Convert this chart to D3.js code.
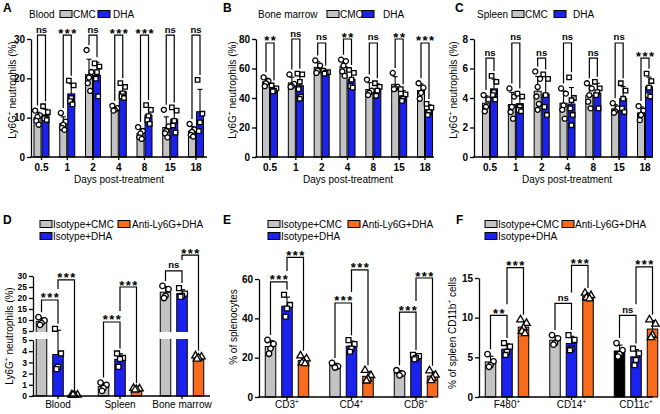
<!DOCTYPE html>
<html><head><meta charset="utf-8">
<script src="https://cdn.jsdelivr.net/npm/d3@7"></script>
<style>body{margin:0;background:#fff} svg{display:block} text{font-family:'Liberation Sans',Arial,sans-serif;fill:#000}</style>
</head><body><script>
// ---------------- DATA ----------------
const days = ["0.5","1","2","4","8","15","18"];
// Panel A: Blood
const bloodCMC = [[11.8,10.6,10.2,9.2,8.2],[11.2,9.0,8.2,7.4,6.9],[27.2,21.6,20.2,18.8,16.8],[13.0,12.4,12.0,11.8],[7.6,6.6,6.0,5.0,4.6],[12.0,7.8,6.6,6.0,5.0],[8.4,7.0,6.4,5.6,5.2]];
const bloodDHA = [[12.9,11.4,10.0,9.8,9.4],[19.4,18.2,15.0,14.2,13.4],[23.8,23.0,21.6,19.9,15.4],[18.8,17.8,16.2,15.4,15.0],[13.2,12.0,10.4,9.4,8.4],[12.6,11.8,9.2,8.0,6.2],[19.6,11.0,8.8,6.6]];
const bloodSig = ["ns","***","ns","***","***","ns","ns"];
// Panel B: Bone marrow
const marrowCMC = [[54,51.5,50,48],[56,49.5,48,47.5],[65.5,62,58.5,57],[66,65,62,58,55],[52.5,45,43.5,42],[57,47.5,46.5,46],[50,47,43.5,39.5]];
const marrowDHA = [[48.5,46.5,45,44.5],[56.5,56,51,46,41,39.5],[58.5,57.5,57,56.5],[59,57,52.5,48,47],[50,47.5,45,41.5],[46,42.5,39.5,38],[36,33.5,30.5,28.5]];
const marrowSig = ["**","ns","ns","**","ns","**","***"];
// Panel C: Spleen
const spleenCMC = [[4.2,3.9,3.4,3.1],[4.65,4.1,3.4,3.05,2.6],[5.8,5.3,4.75,4.1,3.6,3.2],[4.65,4.3,3.5,3.2,2.6],[5.0,4.65,4.2,3.75,3.3],[3.65,3.3,3.1,3.0],[3.45,3.15,2.85,2.5]];
const spleenDHA = [[5.5,5.1,4.4,4.2,3.9],[4.3,4.1,3.4,3.2,3.1],[5.6,5.3,4.2,3.4,2.85],[5.4,4.0,3.85,3.3,2.85,2.15],[5.1,4.65,4.4,4.2,3.3],[5.0,4.5,3.95,3.3,3.05],[5.65,5.15,4.7,4.2,4.1]];
const spleenSig = ["ns","ns","ns","ns","ns","ns","***"];
// Panel D
const tissues = ["Blood","Spleen","Bone marrow"];
const dIsoCMC = [[11.3,9.8,8.6,7.8],[1.2,1.0,0.7,0.45],[25.5,24,21,20]];
const dIsoDHA = [[6.0,3.8,2.6,2.4],[3.8,3.4,3.3,2.6],[24.5,22,21,20.5]];
const dAntiDHA = [[0.1,0.1,0.1,0.1],[0.7,0.65,0.6,0.55],[3.6,3.5,3.4,3.3]];
const dSigCMCvsDHA = ["***","***","ns"];
const dSigDHAvsAnti = ["***","***","***"];
// Panel E
const tcells = ["CD3","CD4","CD8"];
const eIsoCMC = [[29,27,24.6,22],[17.3,15.6,15.0],[13.6,11.9,11.0]];
const eIsoDHA = [[52,46.8,45,40.8],[28.9,26.9,24.6,23],[21.4,20.8,19.8,19.2]];
const eAntiDHA = [[21,19.5,18,17.4,17],[13.6,11,9.2,8.2],[13.4,11.2,9.6,8.4]];
const eSigCMCvsDHA = ["***","***","***"];
const eSigDHAvsAnti = ["***","***","***"];
// Panel F
const myeloid = ["F480","CD14","CD11c"];
const fIsoCMC = [[5.4,4.5,4.0,3.8],[7.8,7.4,6.8,6.6],[6.8,5.9,5.4,5.1]];
const fIsoDHA = [[6.8,6.35,5.7,5.3],[7.8,7.2,6.1,5.9],[6.1,5.5,4.66,4.0]];
const fAntiDHA = [[9.75,9.3,8.7,8.3,8.0],[13.1,12.8,12.6,12.5,12.4],[9.75,9.2,7.8,7.5]];
const fSigCMCvsDHA = ["**","ns","ns"];
const fSigDHAvsAnti = ["***","***","***"];
// tick labels
const yTicksA = [0,10,20,30], yTicksB = [0,20,40,60,80], yTicksC = [0,2,4,6,8];
const yTicksDLow = [0,1,2,3,4,5], yTicksDHigh = [5,10,15,20,25,30];
const yTicksE = [0,20,40,60], yTicksF = [0,5,10,15];

// ---------------- DRAWING ----------------
const GREY = "#c2c3c2", BLUE = "#1b22ee", ORANGE = "#f96b1c";
const svg = d3.select("body").append("svg").attr("width",660).attr("height",414);
const jit = [-3, 3, 0, -1.5, 1.5, 0];

function supText(sel, base, sup, rest) {
  sel.append("tspan").text(base);
  sel.append("tspan").attr("dy",-4).attr("font-size","6.5px").text(sup);
  if (rest) sel.append("tspan").attr("dy",4).text(rest);
}
function sym(shape, size) {
  const t = shape==="circle"?d3.symbolCircle:shape==="square"?d3.symbolSquare:d3.symbolTriangle;
  return d3.symbol().type(t).size(size)();
}

function drawPanel(p) {
  const g = svg.append("g");
  const xc = d3.scalePoint().domain(p.cats).range(p.cRange);
  const n = p.series.length;
  const bx = (ci, si) => xc(p.cats[ci]) + (si - (n-1)/2) * p.step;
  const y = p.y;
  const stats = p.series.map(s => s.pts.map(pts => {
    const m = d3.mean(pts), sd = d3.deviation(pts) || 0;
    return {m, sd, top: Math.max(d3.max(pts), m + sd)};
  }));
  // bars
  p.series.forEach((s, si) => s.pts.forEach((pts, ci) => {
    const st = stats[si][ci];
    const fill = s.fillFor ? s.fillFor(p.cats[ci]) : s.fill;
    g.append("rect").attr("x", bx(ci,si) - p.barW/2).attr("y", y(st.m))
      .attr("width", p.barW).attr("height", Math.max(0, y(0) - y(st.m)))
      .attr("fill", fill).attr("stroke","#000").attr("stroke-width",1);
    if (p.gap && st.m > p.gap.v) {
      g.append("rect").attr("x", bx(ci,si) - p.barW/2 - 1).attr("y", p.gap.y0)
        .attr("width", p.barW + 2).attr("height", p.gap.y1 - p.gap.y0).attr("fill","#fff");
    }
  }));
  // error bars + points
  p.series.forEach((s, si) => s.pts.forEach((pts, ci) => {
    const st = stats[si][ci], x = bx(ci, si);
    if (st.sd > 0) {
      g.append("line").attr("x1",x).attr("x2",x).attr("y1",y(st.m)).attr("y2",y(st.m+st.sd)).attr("stroke","#000").attr("stroke-width",1.1);
      g.append("line").attr("x1",x-p.cap).attr("x2",x+p.cap).attr("y1",y(st.m+st.sd)).attr("y2",y(st.m+st.sd)).attr("stroke","#000").attr("stroke-width",1.1);
    }
    pts.forEach((v, k) => {
      g.append("path").attr("d", sym(s.shape, p.symSize))
        .attr("transform", `translate(${x + jit[k % jit.length]*p.jitScale},${y(v)})`)
        .attr("fill","#fff").attr("stroke","#000").attr("stroke-width",1.3);
    });
  }));
  // axes
  p.yAxes.forEach(ax => {
    const a = g.append("g").attr("transform",`translate(${p.x0},0)`)
      .call(d3.axisLeft(ax.scale).tickValues(ax.ticks).tickSize(4).tickSizeOuter(0).tickPadding(2).tickFormat(d3.format("d")));
    a.select(".domain").attr("stroke-width",1.3);
    a.selectAll(".tick line").attr("stroke-width",1.3);
    a.selectAll(".tick text").attr("font-size", p.tickFont || "10px").attr("font-weight","bold").attr("font-family","'Liberation Sans',Arial,sans-serif");
  });
  const y0 = y(0);
  g.append("line").attr("x1",p.x0-0.65).attr("x2",p.x1).attr("y1",y0).attr("y2",y0).attr("stroke","#000").attr("stroke-width",1.3);
  p.cats.forEach((c, ci) => {
    const cx = xc(c);
    g.append("line").attr("x1",cx).attr("x2",cx).attr("y1",y0).attr("y2",y0+3).attr("stroke","#000").attr("stroke-width",1.3);
    const t = g.append("text").attr("x",cx).attr("y",p.catY).attr("text-anchor","middle").attr("font-size","10px").attr("font-weight",p.catBold?"bold":"normal");
    if (p.catSup) supText(t, c, "+"); else t.text(c);
  });
  // brackets
  p.brackets.forEach(br => {
    const xa = bx(br.ci, br.a), xb = bx(br.ci, br.b), yl = y(br.level);
    const legBottom = si => {
      const lower = p.brackets.filter(o => o !== br && o.ci === br.ci && o.level < br.level && (o.a === si || o.b === si));
      if (lower.length) return y(d3.max(lower, o => o.level)) - 11;
      return y(stats[si][br.ci].top) - 5;
    };
    g.append("path").attr("d",`M${xa},${legBottom(br.a)}V${yl}H${xb}V${legBottom(br.b)}`)
      .attr("fill","none").attr("stroke","#000").attr("stroke-width",1.2);
    const isStar = br.label.indexOf("*") >= 0;
    g.append("text").attr("x",(xa+xb)/2 + (isStar?0.75:0)).attr("y", isStar ? yl + 2.5 : yl - 2.5)
      .attr("text-anchor","middle").attr("font-weight","bold")
      .attr("font-size", isStar ? "13px" : "9.5px")
      .attr("letter-spacing", isStar ? "1.5px" : "0px").text(br.label);
  });
}

function legendTop(x, name, xs) {
  svg.append("text").attr("x",x).attr("y",17.5).attr("font-size","10px").text(name);
  [[xs[0],GREY,"CMC",xs[1]],[xs[2],BLUE,"DHA",xs[3]]].forEach(([sx,c,lab,tx]) => {
    svg.append("rect").attr("x",sx).attr("y",10.5).attr("width",12).attr("height",7).attr("fill",c).attr("stroke","#000").attr("stroke-width",1);
    svg.append("text").attr("x",tx).attr("y",17.5).attr("font-size","10px").text(lab);
  });
}
function legendBottom(sx, tx, ax, atx) {
  const items = [[sx,220.5,GREY,"Isotype+CMC",tx],[ax,220.5,ORANGE,"Anti-Ly6G+DHA",atx],[sx,232.5,BLUE,"Isotype+DHA",tx]];
  items.forEach(([x,yy,c,lab,t]) => {
    svg.append("rect").attr("x",x).attr("y",yy).attr("width",12).attr("height",7).attr("fill",c).attr("stroke","#000").attr("stroke-width",1);
    svg.append("text").attr("x",t).attr("y",yy+7).attr("font-size","10px").text(lab);
  });
}
function letter(t, x, yy) {
  svg.append("text").attr("x",x).attr("y",yy).attr("font-size","12px").attr("font-weight","bold").text(t);
}
function yTitle(x, yy, base, sup, rest) {
  const t = svg.append("text").attr("transform",`translate(${x},${yy}) rotate(-90)`).attr("text-anchor","middle").attr("font-size","10px");
  supText(t, base, sup, rest);
}

// ---- top row ----
const topPanels = [
  {x0:31, x1:207, cRange:[41.5,196], dom:[0,30], ticks:yTicksA, cmc:bloodCMC, dha:bloodDHA, sig:bloodSig, lev:i=>31, xt:119, yt:16},
  {x0:256, x1:434, cRange:[270,425], dom:[0,80], ticks:yTicksB, cmc:marrowCMC, dha:marrowDHA, sig:marrowSig, lev:i=>i%2?80:77.3, xt:348, yt:236},
  {x0:474, x1:653, cRange:[490,645], dom:[0,8], ticks:yTicksC, cmc:spleenCMC, dha:spleenDHA, sig:spleenSig, lev:i=>i%2?7.73:6.71, xt:567, yt:457}
];
topPanels.forEach(tp => {
  const ys = d3.scaleLinear().domain(tp.dom).range([157,39]);
  drawPanel({
    cats: days, cRange: tp.cRange, x0: tp.x0, x1: tp.x1, y: ys,
    yAxes: [{scale: ys, ticks: tp.ticks}],
    series: [{pts: tp.cmc, fill: GREY, shape:"circle"}, {pts: tp.dha, fill: BLUE, shape:"square"}],
    barW: 7, step: 8, cap: 2.5, symSize: 20, jitScale: 0.8, catY: 170.5, catBold: true,
    brackets: tp.sig.map((s,i) => ({ci:i, a:0, b:1, label:s, level: tp.lev(i)}))
  });
  svg.append("text").attr("x",tp.xt).attr("y",183).attr("text-anchor","middle").attr("font-size","10px").text("Days post-treatment");
  yTitle(tp.yt, 90, "Ly6G", "+", " neutrophils (%)");
});
letter("A",3,12); letter("B",223,12); letter("C",455,12);
legendTop(29, "Blood", [60,73,98,113]);
legendTop(258, "Bone marrow", [327,340,362,383]);
legendTop(477, "Spleen", [512,525,554,573]);

// ---- bottom row ----
const yLo = d3.scaleLinear().domain([0,5]).range([396,340]);
const yHi = d3.scaleLinear().domain([5,30]).range([331,276]);
const yD = v => v <= 5 ? yLo(v) : yHi(v);
const bracketsOf = (s1, s2, l1, l2) => s1.map((s,i)=>({ci:i,a:0,b:1,label:s,level:l1[i]}))
  .concat(s2.map((s,i)=>({ci:i,a:1,b:2,label:s,level:l2[i]})));

drawPanel({
  cats: tissues, cRange:[58,182], x0:33, x1:210, y: yD, gap: {v:5, y0:332, y1:339}, tickFont: "8.5px",
  yAxes: [{scale:yLo, ticks:yTicksDLow},{scale:yHi, ticks:yTicksDHigh}],
  series: [{pts:dIsoCMC, fill:GREY, shape:"circle"},{pts:dIsoDHA, fill:BLUE, shape:"square"},{pts:dAntiDHA, fill:ORANGE, shape:"triangle"}],
  barW: 10.5, step: 16.5, cap: 3, symSize: 24, jitScale: 1, catY: 408, catBold:false, catSup:false,
  brackets: bracketsOf(dSigCMCvsDHA, dSigDHAvsAnti, [19.1, 9.1, 32.3], [28.2, 25, 39.5])
});
const yE = d3.scaleLinear().domain([0,60]).range([397,279]);
drawPanel({
  cats: tcells, cRange:[287,416], x0:259, x1:433, y: yE,
  yAxes: [{scale:yE, ticks:yTicksE}],
  series: [{pts:eIsoCMC, fill:GREY, shape:"circle"},{pts:eIsoDHA, fill:BLUE, shape:"square"},{pts:eAntiDHA, fill:ORANGE, shape:"triangle"}],
  barW: 10.5, step: 16.5, cap: 3, symSize: 24, jitScale: 1, catY: 408, catBold:false, catSup:true,
  brackets: bracketsOf(eSigCMCvsDHA, eSigDHAvsAnti, [58.5, 47.8, 43.2], [71, 64.6, 60.5])
});
const yF = d3.scaleLinear().domain([0,15]).range([397,278]);
drawPanel({
  cats: myeloid, cRange:[507,636], x0:479, x1:653, y: yF,
  yAxes: [{scale:yF, ticks:yTicksF}],
  series: [{pts:fIsoCMC, fill:GREY, fillFor: c => c === "CD11c" ? "#000" : GREY, shape:"circle"},{pts:fIsoDHA, fill:BLUE, shape:"square"},{pts:fAntiDHA, fill:ORANGE, shape:"triangle"}],
  barW: 10.5, step: 16.5, cap: 3, symSize: 24, jitScale: 1, catY: 408, catBold:false, catSup:true,
  brackets: bracketsOf(fSigCMCvsDHA, fSigDHAvsAnti, [10.3, 11.8, 10.3], [16.3, 16.6, 16.4])
});
letter("D",3,224); letter("E",223,224); letter("F",456,224);
legendBottom(40, 53, 118, 132);
legendBottom(268, 281, 348, 362);
legendBottom(485, 498, 562, 575);
yTitle(13, 336, "Ly6G", "+", " neutrophils (%)");
svg.append("text").attr("transform","translate(237,327) rotate(-90)").attr("text-anchor","middle").attr("font-size","10px").text("% of splenocytes");
yTitle(456, 333, "% of spleen CD11b", "+", " cells");
</script></body></html>
